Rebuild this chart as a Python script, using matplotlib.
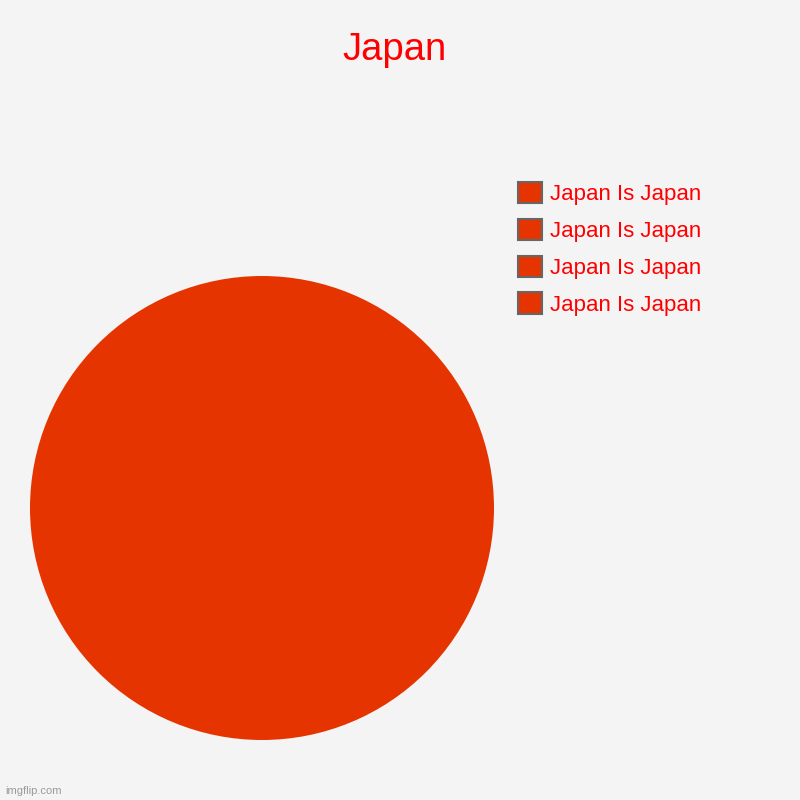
import matplotlib.pyplot as plt
from matplotlib.patches import Patch

title = 'Japan'
labels = ['Japan Is Japan', 'Japan Is Japan', 'Japan Is Japan', 'Japan Is Japan']
values = [1, 1, 1, 1]
slice_color = '#e63400'
bg = '#f4f4f4'

plt.rcParams['font.family'] = ['Liberation Sans', 'DejaVu Sans']

fig = plt.figure(figsize=(8, 8), dpi=100, facecolor=bg)
ax = fig.add_axes([30 / 800, 60 / 800, 464 / 800, 464 / 800])
ax.set_facecolor(bg)
ax.pie(values, colors=[slice_color] * len(values), startangle=90,
       counterclock=False, wedgeprops=dict(linewidth=0))
ax.set_aspect('equal')
ax.set_xlim(-1, 1)
ax.set_ylim(-1, 1)
ax.axis('off')

fig.text(395 / 800, 1 - 50 / 800, title, color='red', fontsize=27.5,
         ha='center', va='center')

handles = [Patch(facecolor=slice_color, edgecolor='#666666', linewidth=1.5)
           for _ in labels]
leg = fig.legend(handles, labels, loc='upper left',
                 bbox_to_anchor=(518 / 800, 1 - 182 / 800),
                 frameon=False, fontsize=16, borderpad=0, borderaxespad=0,
                 handlelength=1.1, handleheight=1.1, handletextpad=0.35,
                 labelspacing=0.61)
for t in leg.get_texts():
    t.set_color('red')

fig.text(5 / 800, 1 - 791 / 800, 'imgflip.com', color='#9a9a9a', fontsize=8,
         ha='left', va='center')

fig.savefig('out.png', dpi=100, facecolor=bg)
